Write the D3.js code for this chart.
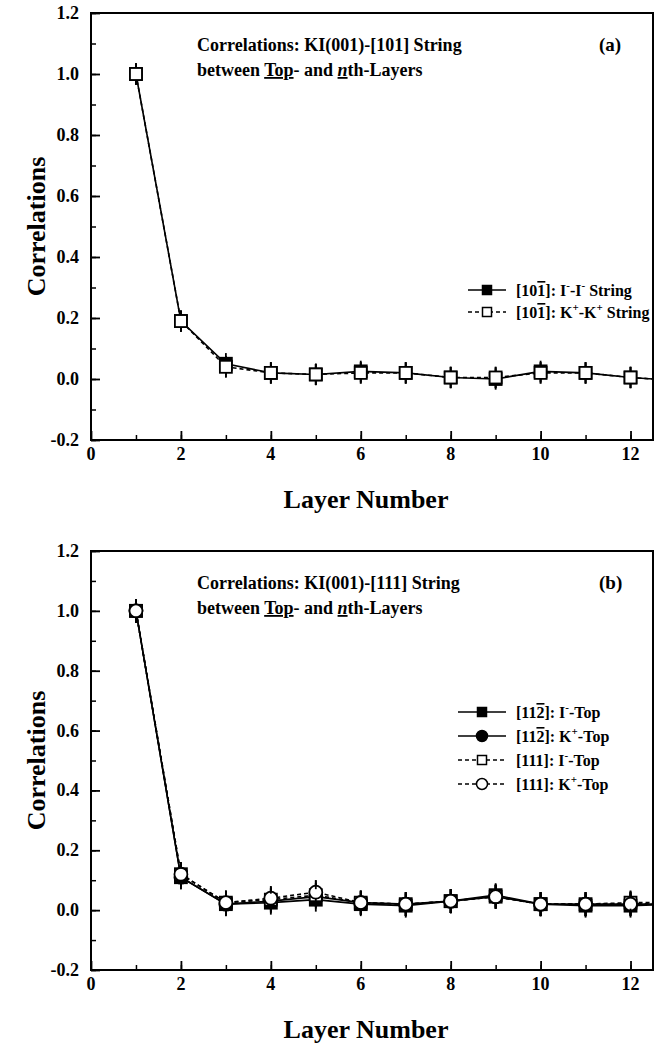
<!DOCTYPE html>
<html>
<head>
<meta charset="utf-8">
<script src="https://cdn.jsdelivr.net/npm/d3@7"></script>
<style>
  html, body { margin: 0; padding: 0; background: #fff; }
  svg text { font-family: "Liberation Serif", "Times New Roman", serif; font-weight: bold; fill: #000; }
</style>
</head>
<body>
<svg id="chart" width="672" height="1053"></svg>
<script>
// layer numbers (13 lies past the right edge and is clipped, like the original)
const layers = [1, 2, 3, 4, 5, 6, 7, 8, 9, 10, 11, 12, 13]

// panel (a): [10-1] string
const aIonI = [1.0, 0.19, 0.05, 0.02, 0.015, 0.025, 0.02, 0.005, 0.0, 0.025, 0.02, 0.005, -0.005]
const aKonK = [1.0, 0.19, 0.04, 0.02, 0.015, 0.02, 0.02, 0.005, 0.005, 0.02, 0.02, 0.005, -0.005]

// panel (b): [111] string
const bI112 = [1.0, 0.11, 0.02, 0.025, 0.035, 0.02, 0.015, 0.03, 0.05, 0.02, 0.015, 0.015, 0.02]
const bK112 = [1.0, 0.11, 0.02, 0.03, 0.045, 0.025, 0.02, 0.03, 0.045, 0.02, 0.02, 0.02, 0.02]
const bI111 = [1.0, 0.12, 0.025, 0.035, 0.05, 0.025, 0.02, 0.03, 0.045, 0.02, 0.02, 0.025, 0.025]
const bK111 = [1.0, 0.12, 0.025, 0.04, 0.06, 0.025, 0.02, 0.03, 0.045, 0.02, 0.02, 0.02, 0.025]

const errA = 0.035
const errB = 0.04

const xTicks = [0, 2, 4, 6, 8, 10, 12]
const yTicks = [-0.2, 0.0, 0.2, 0.4, 0.6, 0.8, 1.0, 1.2]

const svg = d3.select('#chart')

const panels = [
    {
        id: 'a', top: 13, bottom: 440, err: errA,
        title: 'KI(001)-[101] String', tag: '(a)',
        series: [
            {values: aIonI, shape: 'square', filled: true, dash: null, idx: '101', bar: true, kind: 'II'},
            {values: aKonK, shape: 'square', filled: false, dash: '4,3', idx: '101', bar: true, kind: 'KK'},
        ],
        legendTop: 290, legendStep: 22, legendX0: 468,
    },
    {
        id: 'b', top: 551, bottom: 970, err: errB,
        title: 'KI(001)-[111] String', tag: '(b)',
        series: [
            {values: bI112, shape: 'square', filled: true, dash: null, idx: '112', bar: true, kind: 'I'},
            {values: bK112, shape: 'circle', filled: true, dash: null, idx: '112', bar: true, kind: 'K'},
            {values: bI111, shape: 'square', filled: false, dash: '4,3', idx: '111', bar: false, kind: 'I'},
            {values: bK111, shape: 'circle', filled: false, dash: '4,3', idx: '111', bar: false, kind: 'K'},
        ],
        legendTop: 712, legendStep: 24, legendX0: 458,
    },
]

const left = 91, right = 653

const drawMarker = (g, s, cx, cy) => {
    if (s.shape === 'square') {
        g.append('rect')
            .attr('x', cx - 6).attr('y', cy - 6)
            .attr('width', 12).attr('height', 12)
            .attr('fill', s.filled ? '#000' : '#fff')
            .attr('stroke', '#000').attr('stroke-width', 1.8)
    } else {
        g.append('circle')
            .attr('cx', cx).attr('cy', cy).attr('r', 6.5)
            .attr('fill', s.filled ? '#000' : '#fff')
            .attr('stroke', '#000').attr('stroke-width', 1.8)
    }
}

panels.forEach(p => {
    const x = d3.scaleLinear().domain([0, 12.5]).range([left, right])
    const y = d3.scaleLinear().domain([-0.2, 1.2]).range([p.bottom, p.top])

    const g = svg.append('g')

    g.append('clipPath').attr('id', 'clip-' + p.id)
        .append('rect')
        .attr('x', left).attr('y', p.top)
        .attr('width', right - left).attr('height', p.bottom - p.top)

    // y-axis, ticks inward
    g.append('g')
        .attr('transform', `translate(${left},0)`)
        .call(d3.axisRight(y).tickValues(d3.range(-0.2, 1.21, 0.1)).tickSize(5).tickFormat(''))
        .call(a => a.select('.domain').remove())
        .selectAll('line').attr('stroke-width', 1.5)
    g.append('g')
        .attr('transform', `translate(${left},0)`)
        .call(d3.axisRight(y).tickValues(yTicks).tickSize(9).tickFormat(''))
        .call(a => a.select('.domain').remove())
        .selectAll('line').attr('stroke-width', 1.8)
    g.append('g')
        .selectAll('text')
        .data(yTicks)
        .join('text')
            .attr('x', left - 12)
            .attr('y', d => y(d) + 6)
            .attr('text-anchor', 'end')
            .attr('font-size', 18)
            .text(d => d3.format('.1f')(d).replace('−', '-'))

    // x-axis, ticks inward
    g.append('g')
        .attr('transform', `translate(0,${p.bottom})`)
        .call(d3.axisTop(x).tickValues(d3.range(1, 13, 1)).tickSize(5).tickFormat(''))
        .call(a => a.select('.domain').remove())
        .selectAll('line').attr('stroke-width', 1.5)
    g.append('g')
        .attr('transform', `translate(0,${p.bottom})`)
        .call(d3.axisTop(x).tickValues(xTicks).tickSize(9).tickFormat(''))
        .call(a => a.select('.domain').remove())
        .selectAll('line').attr('stroke-width', 1.8)
    g.append('g')
        .selectAll('text')
        .data(xTicks)
        .join('text')
            .attr('x', d => x(d))
            .attr('y', p.bottom + 20)
            .attr('text-anchor', 'middle')
            .attr('font-size', 18)
            .text(d => d)

    // frame
    g.append('rect')
        .attr('x', left).attr('y', p.top)
        .attr('width', right - left).attr('height', p.bottom - p.top)
        .attr('fill', 'none').attr('stroke', '#000').attr('stroke-width', 2)

    // axis titles
    g.append('text')
        .attr('x', 366)
        .attr('y', p.bottom + 68)
        .attr('text-anchor', 'middle')
        .attr('font-size', 26)
        .text('Layer Number')
    g.append('text')
        .attr('transform', `translate(45,${(p.top + p.bottom) / 2}) rotate(-90)`)
        .attr('text-anchor', 'middle')
        .attr('font-size', 26)
        .text('Correlations')

    // title inside the frame
    g.append('text')
        .attr('x', 197).attr('y', p.top + 38)
        .attr('font-size', 18)
        .text('Correlations: ' + p.title)
    const t2 = g.append('text')
        .attr('x', 197).attr('y', p.top + 63)
        .attr('font-size', 18)
    t2.append('tspan').text('between ')
    t2.append('tspan').attr('text-decoration', 'underline').text('Top')
    t2.append('tspan').text('- and ')
    t2.append('tspan').attr('text-decoration', 'underline').attr('font-style', 'italic').text('n')
    t2.append('tspan').text('th-Layers')
    g.append('text')
        .attr('x', 599).attr('y', p.top + 38)
        .attr('font-size', 19)
        .text(p.tag)

    // data
    const plot = g.append('g').attr('clip-path', `url(#clip-${p.id})`)
    const line = d3.line()
        .x((d, i) => x(layers[i]))
        .y(d => y(d))

    p.series.forEach(s => {
        plot.append('path')
            .datum(s.values)
            .attr('fill', 'none')
            .attr('stroke', '#000')
            .attr('stroke-width', 1.6)
            .attr('stroke-dasharray', s.dash)
            .attr('d', line)
    })
    p.series.forEach(s => {
        s.values.forEach((v, i) => {
            plot.append('line')
                .attr('x1', x(layers[i])).attr('x2', x(layers[i]))
                .attr('y1', y(v + p.err)).attr('y2', y(v - p.err))
                .attr('stroke', '#000').attr('stroke-width', 1.8)
        })
    })
    p.series.forEach(s => {
        s.values.forEach((v, i) => drawMarker(plot, s, x(layers[i]), y(v)))
    })
    // error bars stay visible above and below the open markers
    p.series.filter(s => !s.filled).forEach(s => {
        s.values.forEach((v, i) => {
            plot.append('line')
                .attr('x1', x(layers[i])).attr('x2', x(layers[i]))
                .attr('y1', y(v + p.err)).attr('y2', y(v) - 6)
                .attr('stroke', '#000').attr('stroke-width', 1.8)
            plot.append('line')
                .attr('x1', x(layers[i])).attr('x2', x(layers[i]))
                .attr('y1', y(v) + 6).attr('y2', y(v - p.err))
                .attr('stroke', '#000').attr('stroke-width', 1.8)
        })
    })

    // legend
    p.series.forEach((s, k) => {
        const ly = p.legendTop + k * p.legendStep
        const x0 = p.legendX0, x1 = 506, mx = (x0 + x1) / 2
        const lg = g.append('g')
        lg.append('line')
            .attr('x1', x0).attr('x2', x1)
            .attr('y1', ly).attr('y2', ly)
            .attr('stroke', '#000').attr('stroke-width', 1.6)
            .attr('stroke-dasharray', s.dash)
        if (s.shape === 'square') {
            lg.append('rect')
                .attr('x', mx - 4.5).attr('y', ly - 4.5).attr('width', 9).attr('height', 9)
                .attr('fill', s.filled ? '#000' : '#fff')
                .attr('stroke', '#000').attr('stroke-width', 1.5)
        } else {
            lg.append('circle')
                .attr('cx', mx).attr('cy', ly).attr('r', 5.5)
                .attr('fill', s.filled ? '#000' : '#fff')
                .attr('stroke', '#000').attr('stroke-width', 1.5)
        }
        const txt = lg.append('text')
            .attr('x', 516).attr('y', ly + 6)
            .attr('font-size', 16)
        txt.append('tspan').text('[' + s.idx.slice(0, 2))
        const last = txt.append('tspan').text(s.idx.slice(2))
        if (s.bar) last.attr('text-decoration', 'overline')
        txt.append('tspan').text(']: ')
        // superscript charge, the following piece drops back to the baseline
        let drop = 0
        const piece = str => {
            const t = txt.append('tspan').text(str)
            if (drop) { t.attr('dy', drop); drop = 0 }
        }
        const ion = (sym, sign) => {
            piece(sym)
            txt.append('tspan').attr('font-size', 11).attr('dy', -7).text(sign)
            drop = 7
        }
        if (s.kind === 'II') { ion('I', '-'); piece('-'); ion('I', '-'); piece(' String') }
        else if (s.kind === 'KK') { ion('K', '+'); piece('-'); ion('K', '+'); piece(' String') }
        else if (s.kind === 'I') { ion('I', '-'); piece('-Top') }
        else { ion('K', '+'); piece('-Top') }
    })
})
</script>
</body>
</html>
